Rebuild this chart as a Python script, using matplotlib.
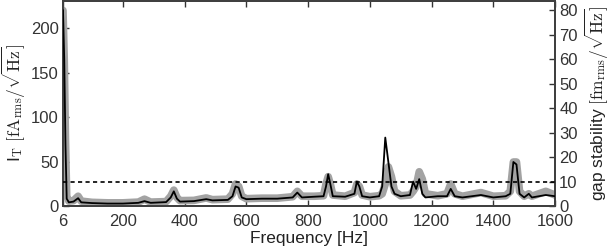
import matplotlib
matplotlib.use("Agg")
import matplotlib.pyplot as plt

plt.rcParams["font.family"] = ["Liberation Sans", "DejaVu Sans"]
plt.rcParams["mathtext.fontset"] = "cm"

# ── data (values in gap-stability units, right axis) ───────────────────────
freq = [6, 10, 14, 18, 25, 40, 55, 65, 100, 150, 200, 250, 270, 290, 340,
        355, 365, 375, 385, 430, 470, 490, 540, 555, 565, 575, 585, 600,
        650, 700, 750, 765, 780, 820, 850, 858, 865, 872, 880, 920, 950,
        958, 966, 975, 1000, 1030, 1040, 1050, 1060, 1070, 1080, 1100,
        1130, 1140, 1150, 1160, 1170, 1180, 1220, 1250, 1262, 1275, 1300,
        1360, 1400, 1440, 1455, 1465, 1475, 1485, 1500, 1515, 1525, 1570,
        1600]
val_black = [80, 60, 25, 3, 1.5, 1.8, 3.2, 1.5, 1.2, 1.0, 1.0, 1.3, 2.0, 1.3, 1.6,
             3.5, 6.0, 3.0, 1.8, 2.0, 2.8, 2.3, 2.5, 4.0, 8.0, 7.5, 3.5, 2.8,
             3.0, 3.0, 3.5, 5.5, 3.5, 3.8, 4.0, 8.0, 13.0, 9.0, 4.0, 3.8, 5.0,
             10.0, 8.0, 4.0, 3.5, 4.0, 8.0, 28.0, 18.0, 8.0, 5.0, 4.0,
             4.5, 10.0, 7.0, 11.0, 5.0, 3.5, 4.0, 4.0, 7.0, 4.0, 3.5,
             4.5, 3.5, 4.0, 5.0, 18.0, 17.0, 5.0, 3.5, 5.0, 3.5, 4.5,
             4.0]
val_gray = [80, 60, 27, 4, 2, 2.2, 4, 2, 1.5, 1.3, 1.3, 1.6, 2.8, 1.6, 1.8,
            4, 6.5, 3.5, 2.2, 2.3, 3.3, 2.6, 2.8, 5, 9, 8, 4, 3,
            3.2, 3.2, 3.8, 6, 4, 4, 4.2, 9, 12, 9, 4.5, 4, 5.5,
            9, 8, 4.5, 3.8, 4.2, 5, 9, 16, 12, 6, 4.2,
            4.5, 6, 8, 14, 11, 5, 4.2, 5, 9, 5, 4,
            5.5, 4, 4.2, 6, 18, 18, 6, 4, 5, 4, 6,
            4.5]

threshold = 10
x_ticks = [6, 200, 400, 600, 800, 1000, 1200, 1400, 1600]

# ── figure ─────────────────────────────────────────────────────────────────
fig = plt.figure(figsize=(6.14, 2.52), dpi=100)
ax = fig.add_axes([0.1026, 0.1825, 0.8014, 0.815])
ax2 = ax.twinx()

ax2.plot(freq, val_gray, color="#a3a3a3", lw=5.5, solid_capstyle="round",
         solid_joinstyle="round", zorder=2)
ax2.plot(freq, val_black, color="black", lw=1.3, zorder=3)
ax2.axhline(threshold, color="black", lw=1.2, ls=(0, (2.5, 2)), zorder=4)

ax.set_xlim(6, 1600)
ax.set_ylim(0, 231)
ax2.set_ylim(0, 84)
ax.set_xticks(x_ticks)
ax.set_yticks([0, 50, 100, 150, 200])
ax2.set_yticks(range(0, 81, 10))

for a in (ax, ax2):
    a.tick_params(direction="in", length=4, width=1, labelsize=12,
                  colors="#333333", top=True, pad=3)
    for s in a.spines.values():
        s.set_color("#404040")
        s.set_linewidth(1.4)
ax.tick_params(axis="x", pad=6)

ax.set_xlabel("Frequency [Hz]", fontsize=12.5, color="#222222", labelpad=1)
ax.set_ylabel(r"I$_\mathrm{T}$ $[\mathrm{fA}_\mathrm{rms}/\sqrt{\mathrm{Hz}}]$",
              fontsize=12.5, color="#222222", labelpad=2)
ax2.set_ylabel(r"gap stability $[\mathrm{fm}_\mathrm{rms}/\sqrt{\mathrm{Hz}}]$",
               fontsize=12.5, color="#222222", labelpad=4)

fig.savefig("out.png", dpi=100)
